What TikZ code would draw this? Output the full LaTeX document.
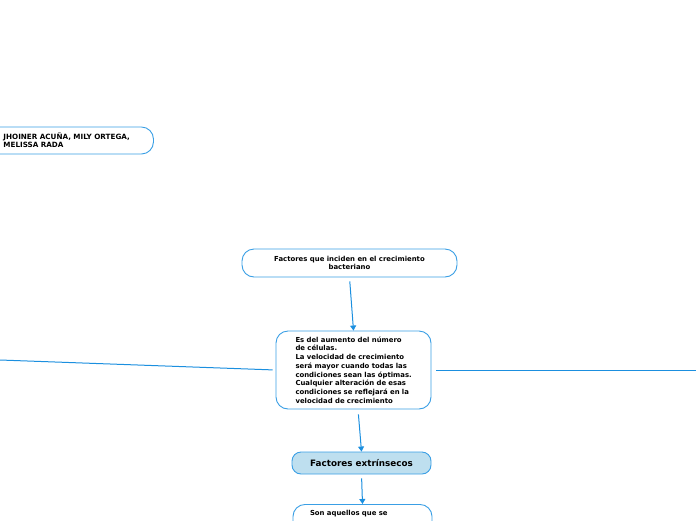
\documentclass[tikz,border=0pt]{standalone}
\usepackage{fontspec}
\setmainfont{DejaVu Sans}
\usetikzlibrary{arrows.meta}
\definecolor{linkblue}{HTML}{1B8FDF}
\definecolor{boxblue}{HTML}{3A9FE5}
\definecolor{topicfill}{HTML}{BEDFEF}

\begin{document}
\begin{tikzpicture}[x=1pt,y=-1pt,
		box/.style={draw=boxblue,line width=0.9pt,rounded corners=12pt,fill=white,
			font=\fontsize{6.9}{8.7}\selectfont\bfseries},
		link/.style={linkblue,line width=1pt},
		tip/.style={-{Triangle[length=5pt,width=6pt]}}]
		% Frame
		\useasboundingbox (0,0) rectangle (696,520);
		\clip (0,0) rectangle (696,520);
		
		% Authors (cut at the left edge)
		\node[box,anchor=west,minimum width=173pt,minimum height=27pt,text width=127pt,
			inner xsep=23pt,align=left,font=\fontsize{7.2}{8.4}\selectfont\bfseries]
			(authors) at (-20,140.5) {JHOINER ACUÑA, MILY ORTEGA,\\MELISSA RADA};
		
		% Title
		\node[box,minimum width=215pt,minimum height=28pt,align=center]
			(title) at (349.5,263) {Factores que inciden en el crecimiento\\bacteriano};
		
		% Main idea
		\node[box,minimum width=155pt,minimum height=78pt,text width=118pt,
			inner xsep=18.5pt,align=left]
			(main) at (353.5,370) {\hspace*{1pt}Es del aumento del número\\\hspace*{1pt}de células.\\\hspace*{1pt}La velocidad de crecimiento\\\hspace*{1pt}será mayor cuando todas las\\\hspace*{1pt}condiciones sean las óptimas.\\\hspace*{1pt}Cualquier alteración de esas\\\hspace*{1pt}condiciones se reflejará en la\\\hspace*{1pt}velocidad de crecimiento};
		
		% Topic
		\node[box,fill=topicfill,rounded corners=9pt,minimum width=139pt,minimum height=22pt,
			font=\fontsize{8.8}{10}\selectfont\bfseries]
			(extr) at (361.5,463) {Factores extrínsecos};
		
		% Explanation (cut at the bottom edge)
		\node[box,anchor=north,minimum width=139pt,text width=105pt,inner xsep=17pt,
			inner ysep=6pt,text depth=30pt,align=left]
			(expl) at (362.5,504) {Son aquellos que se};
		
		% Side links
		\coordinate (leftend) at (0,360);
		\coordinate (rightend) at (696,370);
		\draw[link,shorten <=3pt] (main.west) -- (leftend);
		\draw[link] ([xshift=5pt]main.east) -- (rightend);
		
		% Arrows down
		\draw[link,tip,shorten <=4pt] (title.south) -- (main.north);
		\draw[link,tip,shorten <=5pt] ([xshift=4.5pt]main.south) -- (extr.north);
		\draw[link,tip,shorten <=4pt] (extr.south) -- (expl.north);
	\end{tikzpicture}
\end{document}
